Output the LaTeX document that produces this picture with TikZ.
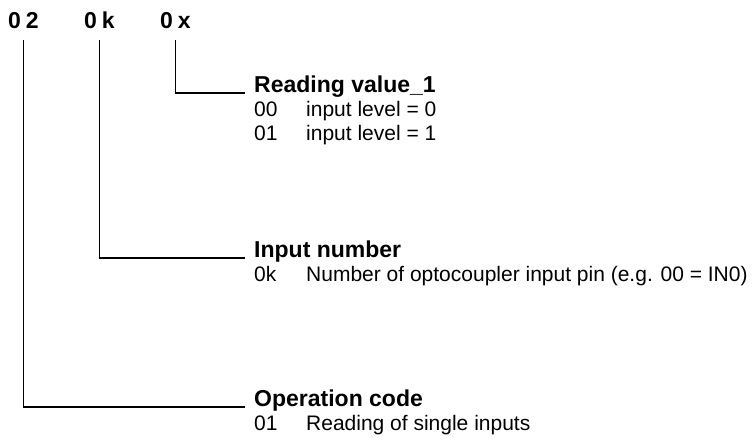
\documentclass[tikz,border=0pt]{standalone}
\usepackage{fontspec}
\setmainfont{Liberation Sans}
\usetikzlibrary{positioning}

\tikzset{
  bytelabel/.style={inner sep=0pt, anchor=base west, font=\fontsize{23}{26}\selectfont\bfseries},
  fieldhead/.style={inner xsep=9pt, inner ysep=0pt, anchor=base west, font=\fontsize{23}{26}\selectfont\bfseries},
  fieldrow/.style={inner sep=0pt, anchor=base west, font=\fontsize{21}{24}\selectfont},
  leader/.style={line width=1.2pt, shorten <=11pt},
}

\newcommand{\valcol}[1]{\makebox[52pt][l]{#1}}

\begin{document}
\begin{tikzpicture}[x=1pt, y=-1pt]
    \useasboundingbox (0,0) rectangle (756,438);

    % the three bytes of the answer
    \node (opbyte) [bytelabel] at (8,29) {0\hspace{5pt}2};
    \node (inbyte) [bytelabel] at (84,29) {0\hspace{5pt}k};
    \node (valbyte) [bytelabel] at (160,29) {0\hspace{5pt}x};

    \node (valhead) [fieldhead] at (245,93) {Reading value\_1};
    \node (val0) [fieldrow] at (254,117) {\valcol{00}input level = 0};
    \node (val1) [fieldrow] at (254,141) {\valcol{01}input level = 1};

    \node (inhead) [fieldhead] at (245,258) {Input number};
    \node (in0) [fieldrow] at (254,282) {\valcol{0k}Number of optocoupler input pin (e.g. 00 = IN0)};

    \node (ophead) [fieldhead] at (245,407) {Operation code};
    \node (op0) [fieldrow] at (254,431) {\valcol{01}Reading of single inputs};

    \draw [leader] (valbyte.south) |- (valhead.base west);
    \draw [leader] (inbyte.south) |- (inhead.base west);
    \draw [leader] (opbyte.south) |- (ophead.base west);
\end{tikzpicture}
\end{document}
